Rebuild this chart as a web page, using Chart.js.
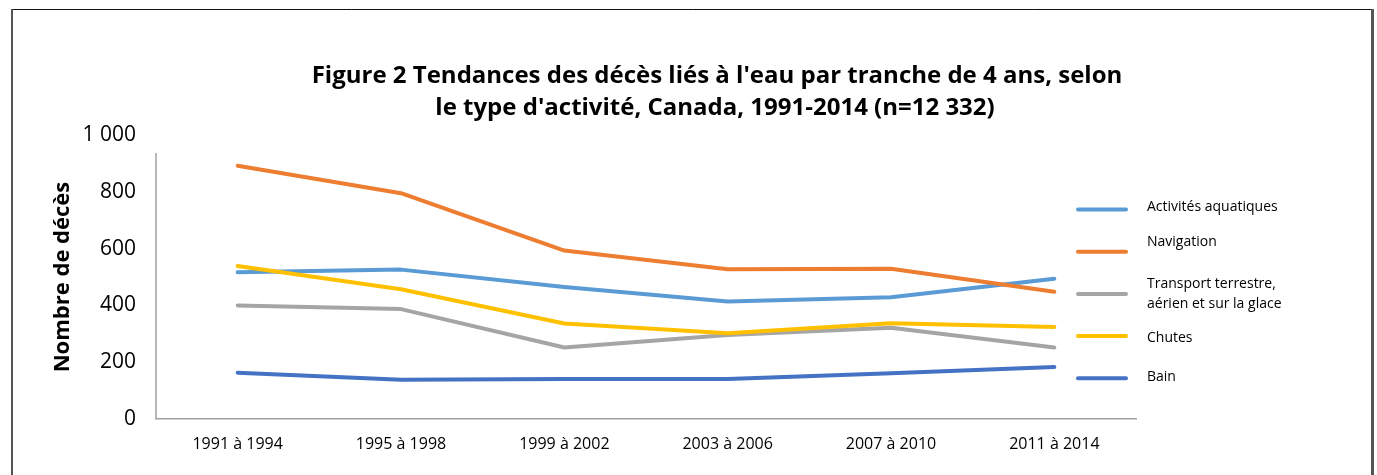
<!DOCTYPE html>
<html>
<head>
<meta charset="utf-8">
<script src="https://cdn.jsdelivr.net/npm/chart.js@4.4.1/dist/chart.umd.min.js"></script>
<style>
  html, body { margin: 0; padding: 0; background: #fff; }
  .wrap { width: 1377px; height: 475px; position: relative; }
</style>
</head>
<body>
<div class="wrap"><canvas id="chart"></canvas></div>
<script>
// Données (décès par tranche de 4 ans)
const categories = ['1991 à 1994', '1995 à 1998', '1999 à 2002', '2003 à 2006', '2007 à 2010', '2011 à 2014'];
const activites = [517, 526, 465, 414, 429, 494];
const navigation = [892, 795, 593, 527, 529, 448];
const transport = [400, 387, 252, 296, 321, 252];
const chutes = [539, 457, 336, 302, 337, 324];
const bain = [163, 138, 141, 141, 161, 183];
const seriesNames = ['Activités aquatiques', 'Navigation', 'Transport terrestre, aérien et sur la glace', 'Chutes', 'Bain'];
const yTicks = [0, 200, 400, 600, 800, 1000];

const titleLines = [
    "Figure 2 Tendances des décès liés à l'eau par tranche de 4 ans, selon",
    "le type d'activité, Canada, 1991-2014 (n=12 332)"
];
const colors = ['#5B9BD5', '#ED7D31', '#A5A5A5', '#FFC000', '#4472C4'];
const FONT = "'Open Sans', sans-serif";

const seriesValues = [activites, navigation, transport, chutes, bain];

// cadre, titre et légende dessinés à la main (comme dans Excel)
const decor = {
    id: 'decor',
    beforeDraw(chart) {
        const ctx = chart.ctx;
        ctx.save();
        ctx.fillStyle = '#fff';
        ctx.fillRect(0, 0, chart.width, chart.height);
        ctx.restore();
    },
    afterDraw(chart) {
        const ctx = chart.ctx;
        const area = chart.chartArea;
        ctx.save();

        // frame
        ctx.strokeStyle = '#111';
        ctx.lineWidth = 1;
        ctx.beginPath();
        ctx.moveTo(11, 9.5);
        ctx.lineTo(1374, 9.5);
        ctx.stroke();
        ctx.strokeStyle = '#555';
        ctx.lineWidth = 2;
        ctx.beginPath();
        ctx.moveTo(12, 9);
        ctx.lineTo(12, chart.height);
        ctx.stroke();
        ctx.lineWidth = 3;
        ctx.beginPath();
        ctx.moveTo(1372.5, 9);
        ctx.lineTo(1372.5, chart.height);
        ctx.stroke();

        // y axis line (starts a bit below the top tick, like the original)
        ctx.strokeStyle = '#a0a0a0';
        ctx.lineWidth = 1.5;
        ctx.beginPath();
        ctx.moveTo(area.left, area.top + 18);
        ctx.lineTo(area.left, area.bottom);
        ctx.stroke();

        // title
        ctx.fillStyle = '#000';
        ctx.font = 'bold 24px ' + FONT;
        ctx.textAlign = 'center';
        ctx.textBaseline = 'middle';
        ctx.fillText(titleLines[0], 717, 76);
        ctx.fillText(titleLines[1], 715, 108.5);

        // legend
        const textOffsets = [-2.5, -10, 0, 2, -1.5];
        ctx.font = '14px ' + FONT;
        ctx.textAlign = 'left';
        chart.data.datasets.forEach((ds, i) => {
            const ly = 209.5 + i * 42.2;
            ctx.strokeStyle = ds.borderColor;
            ctx.lineWidth = 4;
            ctx.lineCap = 'round';
            ctx.beginPath();
            ctx.moveTo(1078, ly);
            ctx.lineTo(1126, ly);
            ctx.stroke();

            // wrap long names
            const words = ds.label.split(' ');
            const lines = [];
            let cur = '';
            words.forEach(w => {
                const test = cur ? cur + ' ' + w : w;
                if (ctx.measureText(test).width > 145 && cur) {
                    lines.push(cur);
                    cur = w;
                } else {
                    cur = test;
                }
            });
            lines.push(cur);
            const lh = 19.6;
            const y0 = ly + textOffsets[i] - (lines.length - 1) * lh / 2;
            ctx.fillStyle = '#000';
            lines.forEach((t, k) => ctx.fillText(t, 1147, y0 + k * lh));
        });
        ctx.restore();
    }
};

const datasets = seriesNames.map((name, i) => ({
    label: name,
    data: seriesValues[i],
    borderColor: colors[i],
    backgroundColor: colors[i],
    borderWidth: 4,
    pointRadius: 0,
    tension: 0,
    borderCapStyle: 'round',
    borderJoinStyle: 'round',
    order: seriesNames.length - i
}));

new Chart(document.getElementById('chart'), {
    type: 'line',
    data: { labels: categories, datasets: datasets },
    options: {
        responsive: true,
        maintainAspectRatio: false,
        animation: false,
        layout: { padding: { left: 0, right: 241, top: 135, bottom: 0 } },
        plugins: {
            legend: { display: false },
            tooltip: { enabled: false },
            title: { display: false }
        },
        scales: {
            x: {
                offset: true,
                grid: { display: false, drawTicks: false },
                border: { display: true, color: '#a0a0a0', width: 1.5 },
                ticks: {
                    color: '#000',
                    font: { family: FONT, size: 16 },
                    padding: 16,
                    maxRotation: 0
                },
                afterFit: s => { s.height = 56; }
            },
            y: {
                min: 0,
                max: 1000,
                afterBuildTicks: s => { s.ticks = yTicks.map(v => ({ value: v })); },
                grid: { display: false, drawTicks: false },
                border: { display: false },
                ticks: {
                    color: '#000',
                    font: { family: FONT, size: 21 },
                    padding: 20,
                    callback: v => String(v).replace(/\B(?=(\d{3})+(?!\d))/g, ' ')
                },
                title: {
                    display: true,
                    text: 'Nombre de décès',
                    color: '#000',
                    font: { family: FONT, size: 22, weight: 'bold' },
                    padding: { top: 50, bottom: 0 }
                },
                afterFit: s => { s.width = 156; }
            }
        }
    },
    plugins: [decor]
});
</script>
</body>
</html>
